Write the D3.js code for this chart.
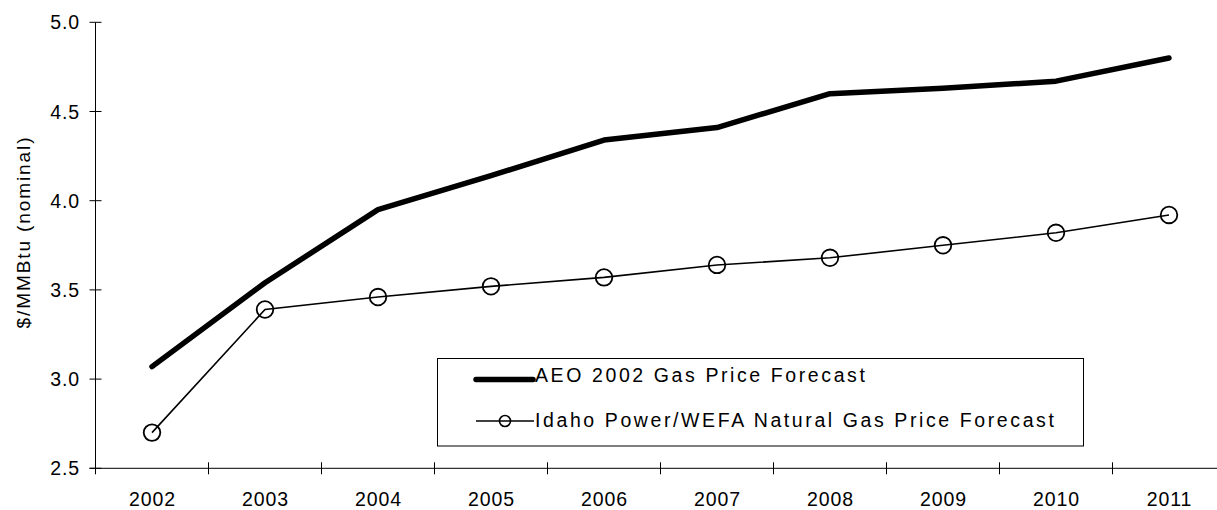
<!DOCTYPE html>
<html>
<head>
<meta charset="utf-8">
<script src="https://cdn.jsdelivr.net/npm/d3@7"></script>
<style>
  body { margin: 0; background: #fff; }
  svg { display: block; font-family: "Liberation Sans", Arial, sans-serif; }
  .tick-label { font-size: 19.5px; letter-spacing: 0.9px; fill: #000; }
  .legend-text { font-size: 19.5px; letter-spacing: 2.6px; fill: #000; }
  .y-title { font-size: 19px; letter-spacing: 1.9px; fill: #000; }
</style>
</head>
<body>
<div id="chart"></div>
<script>
// data
var years = ["2002", "2003", "2004", "2005", "2006", "2007", "2008", "2009", "2010", "2011"];
var aeo = [3.07, 3.54, 3.95, 4.14, 4.34, 4.41, 4.60, 4.63, 4.67, 4.80];
var idaho = [2.70, 3.39, 3.46, 3.52, 3.57, 3.64, 3.68, 3.75, 3.82, 3.92];
var yTicks = [2.5, 3.0, 3.5, 4.0, 4.5, 5.0];
var seriesNames = ["AEO 2002 Gas Price Forecast", "Idaho Power/WEFA Natural Gas Price Forecast"];

var width = 1217, height = 510;
var axisX = 95.5, axisBottom = 468.3, axisTop = 22.3;
var band = 113;

var svg = d3.select("#chart")
    .append("svg")
    .attr("width", width)
    .attr("height", height);

var x = d3.scaleBand()
    .domain(years)
    .range([axisX, axisX + band * years.length]);

var y = d3.scaleLinear()
    .domain([2.5, 5.0])
    .range([axisBottom, axisTop]);

// y axis
svg.append("line")
    .attr("x1", axisX).attr("x2", axisX)
    .attr("y1", y(5.0)).attr("y2", y(2.5))
    .attr("stroke", "#000").attr("stroke-width", 1);

svg.selectAll(".ytick")
    .data(yTicks)
    .enter()
    .append("line")
    .attr("class", "ytick")
    .attr("x1", axisX - 6).attr("x2", axisX + 6)
    .attr("y1", d => y(d)).attr("y2", d => y(d))
    .attr("stroke", "#000").attr("stroke-width", 1);

svg.selectAll(".ylab")
    .data(yTicks)
    .enter()
    .append("text")
    .attr("class", "tick-label")
    .attr("x", 80)
    .attr("y", d => y(d) + 7)
    .attr("text-anchor", "end")
    .text(d => d.toFixed(1));

// x axis
svg.append("line")
    .attr("x1", axisX - 6).attr("x2", width)
    .attr("y1", axisBottom).attr("y2", axisBottom)
    .attr("stroke", "#000").attr("stroke-width", 1);

svg.selectAll(".xtick")
    .data(years.concat(["end"]))
    .enter()
    .append("line")
    .attr("class", "xtick")
    .attr("x1", (d, i) => axisX + i * x.step())
    .attr("x2", (d, i) => axisX + i * x.step())
    .attr("y1", axisBottom - 6).attr("y2", axisBottom + 6)
    .attr("stroke", "#000").attr("stroke-width", 1);

svg.selectAll(".xlab")
    .data(years)
    .enter()
    .append("text")
    .attr("class", "tick-label")
    .attr("x", d => x(d) + x.bandwidth() / 2 + 0.5)
    .attr("y", 505.5)
    .attr("text-anchor", "middle")
    .text(d => d);

// y title
svg.append("text")
    .attr("class", "y-title")
    .attr("transform", "translate(30,232) rotate(-90)")
    .attr("text-anchor", "middle")
    .text("$/MMBtu (nominal)");

var line = d3.line()
    .x((d, i) => x(years[i]) + x.bandwidth() / 2)
    .y(d => y(d));

svg.append("path")
    .datum(aeo)
    .attr("d", line)
    .attr("fill", "none")
    .attr("stroke", "#000")
    .attr("stroke-width", 5.5)
    .attr("stroke-linecap", "round")
    .attr("stroke-linejoin", "round");

svg.append("path")
    .datum(idaho)
    .attr("d", line)
    .attr("fill", "none")
    .attr("stroke", "#000")
    .attr("stroke-width", 1.6);

svg.selectAll(".pt")
    .data(idaho)
    .enter()
    .append("circle")
    .attr("class", "pt")
    .attr("cx", (d, i) => x(years[i]) + x.bandwidth() / 2)
    .attr("cy", d => y(d))
    .attr("r", 8.3)
    .attr("fill", "none")
    .attr("stroke", "#000")
    .attr("stroke-width", 1.8);

// legend
var legend = svg.append("g");

legend.append("rect")
    .attr("x", 437.5).attr("y", 358.5)
    .attr("width", 646).attr("height", 87.5)
    .attr("fill", "#fff")
    .attr("stroke", "#000")
    .attr("stroke-width", 1);

legend.append("line")
    .attr("x1", 476).attr("x2", 533)
    .attr("y1", 379.5).attr("y2", 379.5)
    .attr("stroke", "#000")
    .attr("stroke-width", 5.5)
    .attr("stroke-linecap", "round");

legend.append("line")
    .attr("x1", 476).attr("x2", 534)
    .attr("y1", 421).attr("y2", 421)
    .attr("stroke", "#000")
    .attr("stroke-width", 1.6);

legend.append("circle")
    .attr("cx", 505).attr("cy", 421)
    .attr("r", 5.5)
    .attr("fill", "none")
    .attr("stroke", "#000")
    .attr("stroke-width", 1.6);

legend.selectAll(".legend-text")
    .data(seriesNames)
    .enter()
    .append("text")
    .attr("class", "legend-text")
    .attr("x", 535)
    .attr("y", (d, i) => i === 0 ? 382.3 : 426.5)
    .text(d => d);
</script>
</body>
</html>
